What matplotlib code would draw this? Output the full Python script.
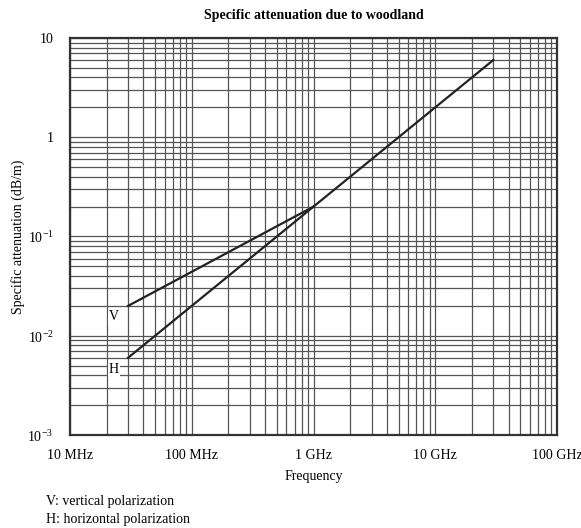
import matplotlib
matplotlib.use("Agg")
import matplotlib.pyplot as plt
import numpy as np
from matplotlib.ticker import NullFormatter, LogLocator

plt.rcParams['font.family'] = ['Liberation Serif', 'DejaVu Serif']
plt.rcParams['mathtext.fontset'] = 'custom'
plt.rcParams['mathtext.rm'] = 'Liberation Serif'

# Data (frequency in MHz, attenuation in dB/m)
v_freq = [30, 1000]
v_att = [0.02, 0.2]
h_freq = [30, 1000]
h_att = [0.006, 0.2]
common_freq = [1000, 30000]
common_att = [0.2, 6.0]

x_ticks = [10, 100, 1000, 10000, 100000]
x_labels = ["10 MHz", "100 MHz", "1 GHz", "10 GHz", "100 GHz"]
y_ticks = [1e-3, 1e-2, 1e-1, 1, 10]
y_labels = [r"$10^{-3}$", r"$10^{-2}$", r"$10^{-1}$", "1", "10"]

fig = plt.figure(figsize=(5.81, 5.28), dpi=100)
ax = fig.add_axes([70/581, 1-435/528, (557-70)/581, (435-38)/528])
ax.set_xscale('log')
ax.set_yscale('log')
ax.set_xlim(10, 100000)
ax.set_ylim(1e-3, 10)

ax.xaxis.set_minor_locator(LogLocator(base=10, subs=np.arange(2, 10)))
ax.yaxis.set_minor_locator(LogLocator(base=10, subs=np.arange(2, 10)))
ax.xaxis.set_minor_formatter(NullFormatter())
ax.yaxis.set_minor_formatter(NullFormatter())
ax.grid(True, which='both', color='#555555', linewidth=0.9)
ax.set_axisbelow(True)
ax.tick_params(which='both', length=0)
ax.set_xticks(x_ticks)
ax.set_xticklabels(x_labels, fontsize=10)
ax.set_yticks(y_ticks)
ax.set_yticklabels(y_labels, fontsize=10)
ax.tick_params(axis='x', pad=10)
ax.tick_params(axis='y', pad=12)
for s in ax.spines.values():
    s.set_color('#333333')
    s.set_linewidth(1.6)

ax.plot(v_freq, v_att, color='#222222', lw=1.6)
ax.plot(h_freq, h_att, color='#222222', lw=1.6)
ax.plot(common_freq, common_att, color='#222222', lw=1.6)

bbox = dict(facecolor='white', edgecolor='none', pad=1)
ax.text(23, 0.0155, "V", fontsize=10, ha='center', va='center', bbox=bbox)
ax.text(23, 0.0046, "H", fontsize=10, ha='center', va='center', bbox=bbox)

ax.set_xlabel("Frequency", fontsize=10, labelpad=6)
ax.set_ylabel("Specific attenuation (dB/m)", fontsize=10, labelpad=2)
ax.set_title("Specific attenuation due to woodland", fontsize=10, fontweight='bold', pad=14)

fig.text(46/581, 1-502/528, "V: vertical polarization", fontsize=10, va='center')
fig.text(46/581, 1-519/528, "H: horizontal polarization", fontsize=10, va='center')

fig.savefig("out.png", dpi=100)
